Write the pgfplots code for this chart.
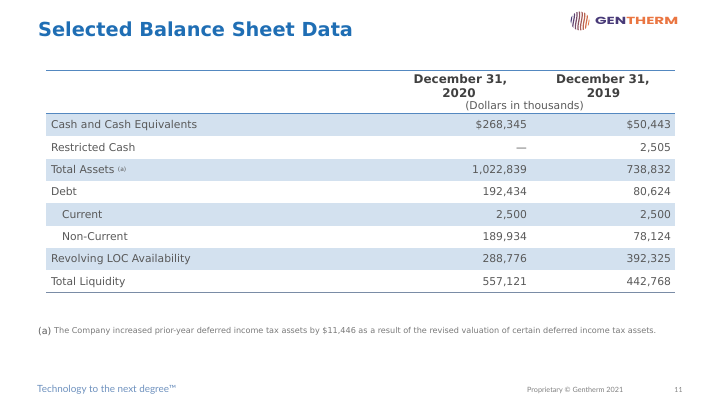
\documentclass[border=0pt]{standalone}
\usepackage{graphicx}
\usepackage{fontspec}
\setmainfont{DejaVu Sans}
\newfontfamily\lato{Lato}
\newfontfamily\poppins{Poppins}
\usepackage{pgfplots}
\pgfplotsset{compat=1.18}
\usepackage{pgfplotstable}
\definecolor{titleblue}{RGB}{31,110,180}
\definecolor{rowblue}{RGB}{211,225,239}
\definecolor{lineblue}{RGB}{84,136,192}
\definecolor{linegray}{RGB}{122,140,166}
\definecolor{bodygray}{RGB}{89,89,89}
\definecolor{headgray}{RGB}{64,64,64}
\definecolor{notegray}{RGB}{120,120,120}
\definecolor{tagblue}{RGB}{110,145,190}
\definecolor{genpurple}{RGB}{72,58,120}
\definecolor{genorange}{RGB}{234,118,66}

% row centre (y, image pixels from top), Dec 31 2020, Dec 31 2019 (dollars in thousands)
\pgfplotstableread{
y       a        b
125.15  268345   50443
147.45  nan      2505
169.75  1022839  738832
192.05  192434   80624
214.35  2500     2500
236.65  189934   78124
258.95  288776   392325
281.25  557121   442768
}\bal

\newcommand{\zbox}[2]{\makebox[0pt][#1]{\raisebox{-4bp}[0pt][0pt]{#2}}}
\pgfplotsset{
  numlab/.style={draw=none, nodes near coords={\zbox{r}{#1\pgfmathprintnumber{\pgfplotspointmeta}}},
    point meta=explicit,
    every node near coord/.append style={inner sep=0pt, minimum size=0pt,
      font=\fontsize{10.8}{13}\selectfont, text=bodygray,
      /pgf/number format/fixed, /pgf/number format/precision=0,
      /pgf/number format/1000 sep={,}, /pgf/number format/assume math mode=true}},
  numlab/.default={},
  rowlab/.style={draw=none, nodes near coords={\zbox{l}{\pgfplotspointmeta}}, point meta=explicit symbolic,
    every node near coord/.append style={inner sep=0pt, minimum size=0pt,
      font=\fontsize{10.8}{13}\selectfont, text=bodygray}},
}
\begin{document}
\begin{tikzpicture}
\begin{axis}[scale only axis, width=720bp, height=405bp,
  xmin=0, xmax=720, ymin=0, ymax=405, y dir=reverse,
  hide axis, clip=false]
% shaded rows
\addplot[fill=rowblue, draw=none] coordinates {(46,114)(675,114)(675,136.3)(46,136.3)} -- cycle;
\addplot[fill=rowblue, draw=none] coordinates {(46,158.6)(675,158.6)(675,180.9)(46,180.9)} -- cycle;
\addplot[fill=rowblue, draw=none] coordinates {(46,203.2)(675,203.2)(675,225.5)(46,225.5)} -- cycle;
\addplot[fill=rowblue, draw=none] coordinates {(46,247.8)(675,247.8)(675,270.1)(46,270.1)} -- cycle;
% rules
\addplot[lineblue, line width=1.2bp] coordinates {(46,70.5)(675,70.5)};
\addplot[lineblue, line width=1.2bp] coordinates {(46,113.5)(675,113.5)};
\addplot[linegray, line width=1.4bp] coordinates {(46,292.2)(675,292.2)};
% row labels
\addplot[rowlab] coordinates {
(51,125.15) [Cash and Cash Equivalents]
(51,147.45) [Restricted Cash]
(51,169.75) [Total Assets \raisebox{2.5bp}{\fontsize{6}{6}\selectfont(a)}]
(51,192.05) [Debt]
(62,214.35) [Current]
(62,236.65) [Non-Current]
(51,258.95) [Revolving LOC Availability]
(51,281.25) [Total Liquidity]
};
% values
\addplot[numlab=\$, skip coords between index={1}{8}] table[x expr=527, y=y, meta=a] {\bal};
\addplot[numlab=\$, skip coords between index={1}{8}] table[x expr=671, y=y, meta=b] {\bal};
\addplot[numlab, skip coords between index={0}{2}] table[x expr=527, y=y, meta=a] {\bal};
\addplot[numlab, skip coords between index={0}{1}] table[x expr=671, y=y, meta=b] {\bal};
\node[anchor=east, inner sep=0pt, text height=8bp, text depth=0pt, text=bodygray, font=\fontsize{10.8}{13}\selectfont] at (axis cs:527,147.45) {—};
% header
\node[inner sep=0pt, text height=8.5bp, text depth=0pt, text=headgray, font=\bfseries\fontsize{12}{13}\selectfont] at (axis cs:460.5,79) {December 31,};
\node[inner sep=0pt, text height=8.5bp, text depth=0pt, text=headgray, font=\bfseries\fontsize{12}{13}\selectfont] at (axis cs:459,93.3) {2020};
\node[inner sep=0pt, text height=8.5bp, text depth=0pt, text=headgray, font=\bfseries\fontsize{12}{13}\selectfont] at (axis cs:603,79) {December 31,};
\node[inner sep=0pt, text height=8.5bp, text depth=0pt, text=headgray, font=\bfseries\fontsize{12}{13}\selectfont] at (axis cs:603.5,93.3) {2019};
\node[inner sep=0pt, text height=8bp, text depth=0pt, text=bodygray, font=\fontsize{10.8}{13}\selectfont] at (axis cs:524.5,105.5) {(Dollars in thousands)};
% title
\node[anchor=west, inner sep=0pt, text height=14bp, text depth=0pt, text=titleblue, font=\bfseries\fontsize{19.4}{22}\selectfont] at (axis cs:38,30) {Selected Balance Sheet Data};
% footnote
\node[anchor=west, inner sep=0pt, text height=7bp, text depth=0pt, text=bodygray, font=\fontsize{9.5}{11}\selectfont] at (axis cs:38,331) {(a)};
\node[anchor=west, inner sep=0pt] at (axis cs:54,331.5) {\resizebox{602bp}{!}{\color{notegray}\fontsize{6}{7}\selectfont The Company increased prior-year deferred income tax assets by \$11,446 as a result of the revised valuation of certain deferred income tax assets.}};
% footer
\node[anchor=west, inner sep=0pt] at (axis cs:37,389.5) {\resizebox{139bp}{!}{\color{tagblue}\lato Technology to the next degree\texttrademark}};
\node[anchor=west, inner sep=0pt] at (axis cs:527,390) {\resizebox{96bp}{!}{\color{gray}\lato Proprietary © Gentherm 2021}};
\node[anchor=center, inner sep=0pt] at (axis cs:678.5,390) {\color{gray}\lato\fontsize{7}{8}\selectfont 11};
\end{axis}
% logo
\begin{scope}[x=1bp, y=-1bp, shift={(0,405bp)}]
\begin{scope}
\clip (580,21) circle [radius=9.5];
\foreach \k in {0,...,7} {
  \pgfmathsetmacro\m{\k*100/7}
  \draw[color=genorange!\m!genpurple, line width=1.2bp]
    (571+\k*2.6,10) .. controls (574+\k*2.6,17) and (568+\k*2.6,25) .. (571+\k*2.6,32);
}
\end{scope}
\node[anchor=west, inner sep=0pt] at (595,21.3) {\resizebox{83bp}{7.3bp}{\poppins\bfseries\color{genpurple}GEN\color{genorange}THERM}};
\end{scope}
\pgfresetboundingbox
\path (0,0) rectangle (720bp,405bp);
\end{tikzpicture}
\end{document}
